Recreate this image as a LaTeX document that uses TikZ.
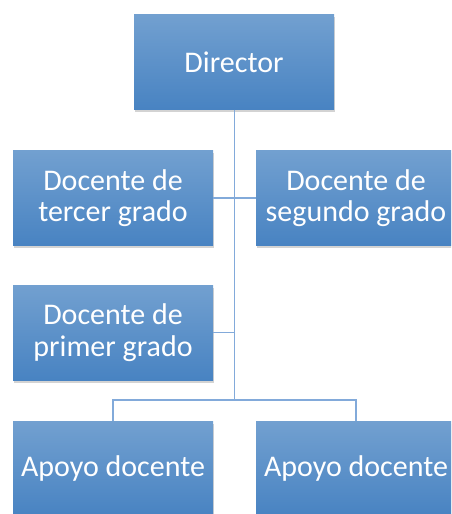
\documentclass[tikz,border=0pt]{standalone}
\usepackage{fontspec}
\setmainfont{Carlito}
\usetikzlibrary{positioning,shadows}
\definecolor{boxtop}{RGB}{114,160,208}
\definecolor{boxbottom}{RGB}{72,131,194}
\definecolor{linkblue}{RGB}{130,170,218}
\tikzset
{
    orgnode/.style = {rectangle, align=center, minimum width=200pt, minimum height=95pt, inner sep=0pt,
        top color=boxtop, bottom color=boxbottom, text=white, font=\fontsize{30}{31.5}\selectfont,
        drop shadow={shadow xshift=1pt, shadow yshift=-2.5pt, opacity=0.35}},
    link/.style = {draw=linkblue, line width=1.8pt}
}
\begin{document}
\begin{tikzpicture}[x=1pt,y=-1pt]
\useasboundingbox (0,0) rectangle (451,514);
\clip (0,0) rectangle (451,514);
% boxes
\node[orgnode] (director) at (234,62) {Director};
\node[orgnode] (tercero) at (113,198) {Docente de\\tercer grado};
\node[orgnode] (segundo) at (356,198) {Docente de\\segundo grado};
\node[orgnode] (primero) at (113,332.5) {Docente de\\primer grado};
\node[orgnode] (apoyoA) at (113,468.5) {Apoyo docente};
\node[orgnode] (apoyoB) at (356,468.5) {Apoyo docente};
% connectors
\coordinate (bus) at (234.5,400);
\draw[link] (director.south -| bus) -- (bus);
\draw[link] (tercero.east) -- (segundo.west);
\draw[link] (primero.east) -- (primero.east -| bus);
\draw[link] (apoyoA.north) |- (bus) -| (apoyoB.north);
\end{tikzpicture}
\end{document}
